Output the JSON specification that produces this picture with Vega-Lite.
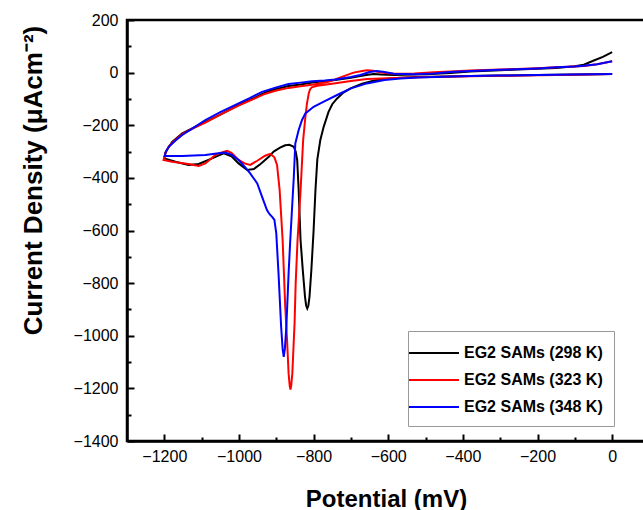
{
 "$schema": "https://vega.github.io/schema/vega-lite/v6.json",
 "autosize": "none",
 "width": 518,
 "height": 421,
 "padding": {"left": 127, "top": 20, "right": 0, "bottom": 69},
 "config": {
  "font": "Liberation Sans",
  "view": {"stroke": "#000", "strokeWidth": 2.5},
  "axis": {"grid": false, "domainColor": "#000", "domainWidth": 2.5, "tickColor": "#000", "tickWidth": 2, "labelColor": "#000", "labelFont": "Liberation Sans", "labelFontSize": 16, "titleColor": "#000", "titleFont": "Liberation Sans", "titleFontWeight": "bold"}
 },
 "datasets": {
  "cv": [
   {"sample":"EG2 SAMs (298 K)","idx":0,"potential":0,"current":-5},
   {"sample":"EG2 SAMs (298 K)","idx":1,"potential":-100,"current":-7},
   {"sample":"EG2 SAMs (298 K)","idx":2,"potential":-200,"current":-9},
   {"sample":"EG2 SAMs (298 K)","idx":3,"potential":-300,"current":-11},
   {"sample":"EG2 SAMs (298 K)","idx":4,"potential":-380,"current":-13},
   {"sample":"EG2 SAMs (298 K)","idx":5,"potential":-450,"current":-15},
   {"sample":"EG2 SAMs (298 K)","idx":6,"potential":-520,"current":-17},
   {"sample":"EG2 SAMs (298 K)","idx":7,"potential":-567,"current":-19},
   {"sample":"EG2 SAMs (298 K)","idx":8,"potential":-610,"current":-24},
   {"sample":"EG2 SAMs (298 K)","idx":9,"potential":-640,"current":-31},
   {"sample":"EG2 SAMs (298 K)","idx":10,"potential":-670,"current":-42},
   {"sample":"EG2 SAMs (298 K)","idx":11,"potential":-701,"current":-60},
   {"sample":"EG2 SAMs (298 K)","idx":12,"potential":-720,"current":-76},
   {"sample":"EG2 SAMs (298 K)","idx":13,"potential":-737,"current":-98},
   {"sample":"EG2 SAMs (298 K)","idx":14,"potential":-750,"current":-120},
   {"sample":"EG2 SAMs (298 K)","idx":15,"potential":-760,"current":-149},
   {"sample":"EG2 SAMs (298 K)","idx":16,"potential":-773,"current":-206},
   {"sample":"EG2 SAMs (298 K)","idx":17,"potential":-782,"current":-256},
   {"sample":"EG2 SAMs (298 K)","idx":18,"potential":-790,"current":-330},
   {"sample":"EG2 SAMs (298 K)","idx":19,"potential":-795,"current":-446},
   {"sample":"EG2 SAMs (298 K)","idx":20,"potential":-800,"current":-600},
   {"sample":"EG2 SAMs (298 K)","idx":21,"potential":-806,"current":-750},
   {"sample":"EG2 SAMs (298 K)","idx":22,"potential":-811,"current":-852},
   {"sample":"EG2 SAMs (298 K)","idx":23,"potential":-814,"current":-885},
   {"sample":"EG2 SAMs (298 K)","idx":24,"potential":-817,"current":-896},
   {"sample":"EG2 SAMs (298 K)","idx":25,"potential":-820,"current":-885},
   {"sample":"EG2 SAMs (298 K)","idx":26,"potential":-823,"current":-852},
   {"sample":"EG2 SAMs (298 K)","idx":27,"potential":-829,"current":-750},
   {"sample":"EG2 SAMs (298 K)","idx":28,"potential":-835,"current":-636},
   {"sample":"EG2 SAMs (298 K)","idx":29,"potential":-840,"current":-446},
   {"sample":"EG2 SAMs (298 K)","idx":30,"potential":-844,"current":-332},
   {"sample":"EG2 SAMs (298 K)","idx":31,"potential":-848,"current":-300},
   {"sample":"EG2 SAMs (298 K)","idx":32,"potential":-853,"current":-282},
   {"sample":"EG2 SAMs (298 K)","idx":33,"potential":-865,"current":-274},
   {"sample":"EG2 SAMs (298 K)","idx":34,"potential":-876,"current":-276},
   {"sample":"EG2 SAMs (298 K)","idx":35,"potential":-890,"current":-285},
   {"sample":"EG2 SAMs (298 K)","idx":36,"potential":-907,"current":-300},
   {"sample":"EG2 SAMs (298 K)","idx":37,"potential":-920,"current":-320},
   {"sample":"EG2 SAMs (298 K)","idx":38,"potential":-943,"current":-348},
   {"sample":"EG2 SAMs (298 K)","idx":39,"potential":-960,"current":-366},
   {"sample":"EG2 SAMs (298 K)","idx":40,"potential":-978,"current":-370},
   {"sample":"EG2 SAMs (298 K)","idx":41,"potential":-1001,"current":-345},
   {"sample":"EG2 SAMs (298 K)","idx":42,"potential":-1020,"current":-318},
   {"sample":"EG2 SAMs (298 K)","idx":43,"potential":-1041,"current":-307},
   {"sample":"EG2 SAMs (298 K)","idx":44,"potential":-1060,"current":-318},
   {"sample":"EG2 SAMs (298 K)","idx":45,"potential":-1072,"current":-326},
   {"sample":"EG2 SAMs (298 K)","idx":46,"potential":-1108,"current":-347},
   {"sample":"EG2 SAMs (298 K)","idx":47,"potential":-1135,"current":-351},
   {"sample":"EG2 SAMs (298 K)","idx":48,"potential":-1170,"current":-339},
   {"sample":"EG2 SAMs (298 K)","idx":49,"potential":-1200,"current":-326},
   {"sample":"EG2 SAMs (298 K)","idx":50,"potential":-1197,"current":-305},
   {"sample":"EG2 SAMs (298 K)","idx":51,"potential":-1193,"current":-294},
   {"sample":"EG2 SAMs (298 K)","idx":52,"potential":-1179,"current":-263},
   {"sample":"EG2 SAMs (298 K)","idx":53,"potential":-1152,"current":-231},
   {"sample":"EG2 SAMs (298 K)","idx":54,"potential":-1120,"current":-208},
   {"sample":"EG2 SAMs (298 K)","idx":55,"potential":-1090,"current":-187},
   {"sample":"EG2 SAMs (298 K)","idx":56,"potential":-1050,"current":-160},
   {"sample":"EG2 SAMs (298 K)","idx":57,"potential":-1001,"current":-123},
   {"sample":"EG2 SAMs (298 K)","idx":58,"potential":-960,"current":-97},
   {"sample":"EG2 SAMs (298 K)","idx":59,"potential":-929,"current":-75},
   {"sample":"EG2 SAMs (298 K)","idx":60,"potential":-900,"current":-62},
   {"sample":"EG2 SAMs (298 K)","idx":61,"potential":-867,"current":-51},
   {"sample":"EG2 SAMs (298 K)","idx":62,"potential":-835,"current":-45},
   {"sample":"EG2 SAMs (298 K)","idx":63,"potential":-804,"current":-38},
   {"sample":"EG2 SAMs (298 K)","idx":64,"potential":-770,"current":-33},
   {"sample":"EG2 SAMs (298 K)","idx":65,"potential":-742,"current":-28},
   {"sample":"EG2 SAMs (298 K)","idx":66,"potential":-700,"current":-20},
   {"sample":"EG2 SAMs (298 K)","idx":67,"potential":-675,"current":-13},
   {"sample":"EG2 SAMs (298 K)","idx":68,"potential":-655,"current":-8},
   {"sample":"EG2 SAMs (298 K)","idx":69,"potential":-639,"current":-5},
   {"sample":"EG2 SAMs (298 K)","idx":70,"potential":-620,"current":-7},
   {"sample":"EG2 SAMs (298 K)","idx":71,"potential":-585,"current":-9},
   {"sample":"EG2 SAMs (298 K)","idx":72,"potential":-500,"current":-6},
   {"sample":"EG2 SAMs (298 K)","idx":73,"potential":-433,"current":-1},
   {"sample":"EG2 SAMs (298 K)","idx":74,"potential":-380,"current":4},
   {"sample":"EG2 SAMs (298 K)","idx":75,"potential":-300,"current":9},
   {"sample":"EG2 SAMs (298 K)","idx":76,"potential":-255,"current":12},
   {"sample":"EG2 SAMs (298 K)","idx":77,"potential":-200,"current":15},
   {"sample":"EG2 SAMs (298 K)","idx":78,"potential":-150,"current":18},
   {"sample":"EG2 SAMs (298 K)","idx":79,"potential":-100,"current":24},
   {"sample":"EG2 SAMs (298 K)","idx":80,"potential":-76,"current":30},
   {"sample":"EG2 SAMs (298 K)","idx":81,"potential":-49,"current":46},
   {"sample":"EG2 SAMs (298 K)","idx":82,"potential":-25,"current":60},
   {"sample":"EG2 SAMs (298 K)","idx":83,"potential":0,"current":78},

   {"sample":"EG2 SAMs (323 K)","idx":0,"potential":0,"current":-5},
   {"sample":"EG2 SAMs (323 K)","idx":1,"potential":-100,"current":-8},
   {"sample":"EG2 SAMs (323 K)","idx":2,"potential":-200,"current":-10},
   {"sample":"EG2 SAMs (323 K)","idx":3,"potential":-300,"current":-12},
   {"sample":"EG2 SAMs (323 K)","idx":4,"potential":-380,"current":-14},
   {"sample":"EG2 SAMs (323 K)","idx":5,"potential":-450,"current":-16},
   {"sample":"EG2 SAMs (323 K)","idx":6,"potential":-520,"current":-18},
   {"sample":"EG2 SAMs (323 K)","idx":7,"potential":-580,"current":-20},
   {"sample":"EG2 SAMs (323 K)","idx":8,"potential":-657,"current":-24},
   {"sample":"EG2 SAMs (323 K)","idx":9,"potential":-700,"current":-32},
   {"sample":"EG2 SAMs (323 K)","idx":10,"potential":-746,"current":-41},
   {"sample":"EG2 SAMs (323 K)","idx":11,"potential":-790,"current":-50},
   {"sample":"EG2 SAMs (323 K)","idx":12,"potential":-805,"current":-56},
   {"sample":"EG2 SAMs (323 K)","idx":13,"potential":-810,"current":-65},
   {"sample":"EG2 SAMs (323 K)","idx":14,"potential":-813,"current":-79},
   {"sample":"EG2 SAMs (323 K)","idx":15,"potential":-818,"current":-120},
   {"sample":"EG2 SAMs (323 K)","idx":16,"potential":-822,"current":-168},
   {"sample":"EG2 SAMs (323 K)","idx":17,"potential":-828,"current":-256},
   {"sample":"EG2 SAMs (323 K)","idx":18,"potential":-835,"current":-450},
   {"sample":"EG2 SAMs (323 K)","idx":19,"potential":-843,"current":-636},
   {"sample":"EG2 SAMs (323 K)","idx":20,"potential":-848,"current":-800},
   {"sample":"EG2 SAMs (323 K)","idx":21,"potential":-851,"current":-953},
   {"sample":"EG2 SAMs (323 K)","idx":22,"potential":-855,"current":-1080},
   {"sample":"EG2 SAMs (323 K)","idx":23,"potential":-857,"current":-1143},
   {"sample":"EG2 SAMs (323 K)","idx":24,"potential":-860,"current":-1190},
   {"sample":"EG2 SAMs (323 K)","idx":25,"potential":-862,"current":-1204},
   {"sample":"EG2 SAMs (323 K)","idx":26,"potential":-864,"current":-1190},
   {"sample":"EG2 SAMs (323 K)","idx":27,"potential":-867,"current":-1143},
   {"sample":"EG2 SAMs (323 K)","idx":28,"potential":-871,"current":-1020},
   {"sample":"EG2 SAMs (323 K)","idx":29,"potential":-876,"current":-890},
   {"sample":"EG2 SAMs (323 K)","idx":30,"potential":-883,"current":-636},
   {"sample":"EG2 SAMs (323 K)","idx":31,"potential":-891,"current":-446},
   {"sample":"EG2 SAMs (323 K)","idx":32,"potential":-898,"current":-351},
   {"sample":"EG2 SAMs (323 K)","idx":33,"potential":-905,"current":-322},
   {"sample":"EG2 SAMs (323 K)","idx":34,"potential":-916,"current":-309},
   {"sample":"EG2 SAMs (323 K)","idx":35,"potential":-930,"current":-316},
   {"sample":"EG2 SAMs (323 K)","idx":36,"potential":-951,"current":-335},
   {"sample":"EG2 SAMs (323 K)","idx":37,"potential":-970,"current":-351},
   {"sample":"EG2 SAMs (323 K)","idx":38,"potential":-985,"current":-345},
   {"sample":"EG2 SAMs (323 K)","idx":39,"potential":-1001,"current":-332},
   {"sample":"EG2 SAMs (323 K)","idx":40,"potential":-1020,"current":-305},
   {"sample":"EG2 SAMs (323 K)","idx":41,"potential":-1032,"current":-297},
   {"sample":"EG2 SAMs (323 K)","idx":42,"potential":-1050,"current":-305},
   {"sample":"EG2 SAMs (323 K)","idx":43,"potential":-1063,"current":-313},
   {"sample":"EG2 SAMs (323 K)","idx":44,"potential":-1090,"current":-345},
   {"sample":"EG2 SAMs (323 K)","idx":45,"potential":-1108,"current":-355},
   {"sample":"EG2 SAMs (323 K)","idx":46,"potential":-1135,"current":-347},
   {"sample":"EG2 SAMs (323 K)","idx":47,"potential":-1179,"current":-339},
   {"sample":"EG2 SAMs (323 K)","idx":48,"potential":-1202,"current":-332},
   {"sample":"EG2 SAMs (323 K)","idx":49,"potential":-1197,"current":-305},
   {"sample":"EG2 SAMs (323 K)","idx":50,"potential":-1188,"current":-280},
   {"sample":"EG2 SAMs (323 K)","idx":51,"potential":-1170,"current":-255},
   {"sample":"EG2 SAMs (323 K)","idx":52,"potential":-1150,"current":-232},
   {"sample":"EG2 SAMs (323 K)","idx":53,"potential":-1120,"current":-210},
   {"sample":"EG2 SAMs (323 K)","idx":54,"potential":-1090,"current":-190},
   {"sample":"EG2 SAMs (323 K)","idx":55,"potential":-1050,"current":-160},
   {"sample":"EG2 SAMs (323 K)","idx":56,"potential":-1001,"current":-125},
   {"sample":"EG2 SAMs (323 K)","idx":57,"potential":-960,"current":-100},
   {"sample":"EG2 SAMs (323 K)","idx":58,"potential":-929,"current":-80},
   {"sample":"EG2 SAMs (323 K)","idx":59,"potential":-900,"current":-68},
   {"sample":"EG2 SAMs (323 K)","idx":60,"potential":-867,"current":-58},
   {"sample":"EG2 SAMs (323 K)","idx":61,"potential":-835,"current":-52},
   {"sample":"EG2 SAMs (323 K)","idx":62,"potential":-800,"current":-45},
   {"sample":"EG2 SAMs (323 K)","idx":63,"potential":-760,"current":-35},
   {"sample":"EG2 SAMs (323 K)","idx":64,"potential":-728,"current":-18},
   {"sample":"EG2 SAMs (323 K)","idx":65,"potential":-693,"current":0},
   {"sample":"EG2 SAMs (323 K)","idx":66,"potential":-670,"current":6},
   {"sample":"EG2 SAMs (323 K)","idx":67,"potential":-657,"current":9},
   {"sample":"EG2 SAMs (323 K)","idx":68,"potential":-640,"current":7},
   {"sample":"EG2 SAMs (323 K)","idx":69,"potential":-620,"current":0},
   {"sample":"EG2 SAMs (323 K)","idx":70,"potential":-585,"current":-4},
   {"sample":"EG2 SAMs (323 K)","idx":71,"potential":-530,"current":-3},
   {"sample":"EG2 SAMs (323 K)","idx":72,"potential":-478,"current":1},
   {"sample":"EG2 SAMs (323 K)","idx":73,"potential":-433,"current":4},
   {"sample":"EG2 SAMs (323 K)","idx":74,"potential":-380,"current":8},
   {"sample":"EG2 SAMs (323 K)","idx":75,"potential":-300,"current":12},
   {"sample":"EG2 SAMs (323 K)","idx":76,"potential":-255,"current":14},
   {"sample":"EG2 SAMs (323 K)","idx":77,"potential":-200,"current":17},
   {"sample":"EG2 SAMs (323 K)","idx":78,"potential":-150,"current":20},
   {"sample":"EG2 SAMs (323 K)","idx":79,"potential":-100,"current":23},
   {"sample":"EG2 SAMs (323 K)","idx":80,"potential":-76,"current":25},
   {"sample":"EG2 SAMs (323 K)","idx":81,"potential":-40,"current":32},
   {"sample":"EG2 SAMs (323 K)","idx":82,"potential":0,"current":43},

   {"sample":"EG2 SAMs (348 K)","idx":0,"potential":0,"current":-5},
   {"sample":"EG2 SAMs (348 K)","idx":1,"potential":-100,"current":-7},
   {"sample":"EG2 SAMs (348 K)","idx":2,"potential":-200,"current":-9},
   {"sample":"EG2 SAMs (348 K)","idx":3,"potential":-300,"current":-11},
   {"sample":"EG2 SAMs (348 K)","idx":4,"potential":-380,"current":-13},
   {"sample":"EG2 SAMs (348 K)","idx":5,"potential":-450,"current":-16},
   {"sample":"EG2 SAMs (348 K)","idx":6,"potential":-520,"current":-19},
   {"sample":"EG2 SAMs (348 K)","idx":7,"potential":-567,"current":-22},
   {"sample":"EG2 SAMs (348 K)","idx":8,"potential":-610,"current":-28},
   {"sample":"EG2 SAMs (348 K)","idx":9,"potential":-657,"current":-41},
   {"sample":"EG2 SAMs (348 K)","idx":10,"potential":-700,"current":-60},
   {"sample":"EG2 SAMs (348 K)","idx":11,"potential":-737,"current":-85},
   {"sample":"EG2 SAMs (348 K)","idx":12,"potential":-770,"current":-108},
   {"sample":"EG2 SAMs (348 K)","idx":13,"potential":-800,"current":-130},
   {"sample":"EG2 SAMs (348 K)","idx":14,"potential":-822,"current":-155},
   {"sample":"EG2 SAMs (348 K)","idx":15,"potential":-831,"current":-180},
   {"sample":"EG2 SAMs (348 K)","idx":16,"potential":-840,"current":-218},
   {"sample":"EG2 SAMs (348 K)","idx":17,"potential":-849,"current":-269},
   {"sample":"EG2 SAMs (348 K)","idx":18,"potential":-853,"current":-396},
   {"sample":"EG2 SAMs (348 K)","idx":19,"potential":-858,"current":-522},
   {"sample":"EG2 SAMs (348 K)","idx":20,"potential":-863,"current":-650},
   {"sample":"EG2 SAMs (348 K)","idx":21,"potential":-867,"current":-763},
   {"sample":"EG2 SAMs (348 K)","idx":22,"potential":-873,"current":-966},
   {"sample":"EG2 SAMs (348 K)","idx":23,"potential":-877,"current":-1050},
   {"sample":"EG2 SAMs (348 K)","idx":24,"potential":-880,"current":-1080},
   {"sample":"EG2 SAMs (348 K)","idx":25,"potential":-883,"current":-1050},
   {"sample":"EG2 SAMs (348 K)","idx":26,"potential":-887,"current":-966},
   {"sample":"EG2 SAMs (348 K)","idx":27,"potential":-894,"current":-763},
   {"sample":"EG2 SAMs (348 K)","idx":28,"potential":-900,"current":-611},
   {"sample":"EG2 SAMs (348 K)","idx":29,"potential":-905,"current":-560},
   {"sample":"EG2 SAMs (348 K)","idx":30,"potential":-911,"current":-548},
   {"sample":"EG2 SAMs (348 K)","idx":31,"potential":-918,"current":-538},
   {"sample":"EG2 SAMs (348 K)","idx":32,"potential":-925,"current":-522},
   {"sample":"EG2 SAMs (348 K)","idx":33,"potential":-938,"current":-472},
   {"sample":"EG2 SAMs (348 K)","idx":34,"potential":-951,"current":-421},
   {"sample":"EG2 SAMs (348 K)","idx":35,"potential":-970,"current":-383},
   {"sample":"EG2 SAMs (348 K)","idx":36,"potential":-983,"current":-360},
   {"sample":"EG2 SAMs (348 K)","idx":37,"potential":-1001,"current":-332},
   {"sample":"EG2 SAMs (348 K)","idx":38,"potential":-1019,"current":-313},
   {"sample":"EG2 SAMs (348 K)","idx":39,"potential":-1036,"current":-304},
   {"sample":"EG2 SAMs (348 K)","idx":40,"potential":-1060,"current":-307},
   {"sample":"EG2 SAMs (348 K)","idx":41,"potential":-1090,"current":-313},
   {"sample":"EG2 SAMs (348 K)","idx":42,"potential":-1152,"current":-317},
   {"sample":"EG2 SAMs (348 K)","idx":43,"potential":-1199,"current":-317},
   {"sample":"EG2 SAMs (348 K)","idx":44,"potential":-1196,"current":-300},
   {"sample":"EG2 SAMs (348 K)","idx":45,"potential":-1188,"current":-282},
   {"sample":"EG2 SAMs (348 K)","idx":46,"potential":-1170,"current":-258},
   {"sample":"EG2 SAMs (348 K)","idx":47,"potential":-1152,"current":-237},
   {"sample":"EG2 SAMs (348 K)","idx":48,"potential":-1120,"current":-208},
   {"sample":"EG2 SAMs (348 K)","idx":49,"potential":-1090,"current":-180},
   {"sample":"EG2 SAMs (348 K)","idx":50,"potential":-1050,"current":-150},
   {"sample":"EG2 SAMs (348 K)","idx":51,"potential":-1001,"current":-117},
   {"sample":"EG2 SAMs (348 K)","idx":52,"potential":-970,"current":-96},
   {"sample":"EG2 SAMs (348 K)","idx":53,"potential":-938,"current":-73},
   {"sample":"EG2 SAMs (348 K)","idx":54,"potential":-900,"current":-56},
   {"sample":"EG2 SAMs (348 K)","idx":55,"potential":-867,"current":-43},
   {"sample":"EG2 SAMs (348 K)","idx":56,"potential":-835,"current":-38},
   {"sample":"EG2 SAMs (348 K)","idx":57,"potential":-804,"current":-33},
   {"sample":"EG2 SAMs (348 K)","idx":58,"potential":-770,"current":-30},
   {"sample":"EG2 SAMs (348 K)","idx":59,"potential":-742,"current":-26},
   {"sample":"EG2 SAMs (348 K)","idx":60,"potential":-700,"current":-17},
   {"sample":"EG2 SAMs (348 K)","idx":61,"potential":-675,"current":-9},
   {"sample":"EG2 SAMs (348 K)","idx":62,"potential":-650,"current":2},
   {"sample":"EG2 SAMs (348 K)","idx":63,"potential":-630,"current":6},
   {"sample":"EG2 SAMs (348 K)","idx":64,"potential":-610,"current":2},
   {"sample":"EG2 SAMs (348 K)","idx":65,"potential":-585,"current":-4},
   {"sample":"EG2 SAMs (348 K)","idx":66,"potential":-530,"current":-6},
   {"sample":"EG2 SAMs (348 K)","idx":67,"potential":-478,"current":-3},
   {"sample":"EG2 SAMs (348 K)","idx":68,"potential":-433,"current":2},
   {"sample":"EG2 SAMs (348 K)","idx":69,"potential":-380,"current":6},
   {"sample":"EG2 SAMs (348 K)","idx":70,"potential":-300,"current":11},
   {"sample":"EG2 SAMs (348 K)","idx":71,"potential":-255,"current":13},
   {"sample":"EG2 SAMs (348 K)","idx":72,"potential":-200,"current":16},
   {"sample":"EG2 SAMs (348 K)","idx":73,"potential":-150,"current":20},
   {"sample":"EG2 SAMs (348 K)","idx":74,"potential":-100,"current":23},
   {"sample":"EG2 SAMs (348 K)","idx":75,"potential":-76,"current":26},
   {"sample":"EG2 SAMs (348 K)","idx":76,"potential":-40,"current":32},
   {"sample":"EG2 SAMs (348 K)","idx":77,"potential":0,"current":43}
  ]
 },
 "data": {"name": "cv"},
 "layer": [
  {
   "mark": {"type": "line", "strokeWidth": 2, "clip": true},
   "encoding": {
    "x": {"field": "potential", "type": "quantitative", "scale": {"domain": [-1300, 88], "nice": false, "zero": false},
     "axis": {"values": [-1200, -1000, -800, -600, -400, -200, 0], "format": "d", "tickSize": -7, "labelPadding": 14, "title": "Potential (mV)", "titleFontSize": 24, "titleBaseline": "alphabetic", "titleY": 65, "domainWidth": 2.5}},
    "y": {"field": "current", "type": "quantitative", "scale": {"domain": [-1400, 200], "nice": false, "zero": false},
     "axis": {"values": [-1400, -1200, -1000, -800, -600, -400, -200, 0, 200], "format": "d", "tickSize": -7, "labelPadding": 16, "title": "Current Density (μAcm⁻²)", "titleFontSize": 26, "titleBaseline": "alphabetic", "titleX": -86, "titleY": 160}},
    "color": {"field": "sample", "type": "nominal",
     "scale": {"domain": ["EG2 SAMs (298 K)", "EG2 SAMs (323 K)", "EG2 SAMs (348 K)"], "range": ["#000000", "#ff0000", "#0000ff"]},
     "legend": {"title": null, "orient": "none", "legendX": 281, "legendY": 311, "symbolType": "M-2.5,0H2.5", "symbolSize": 400, "symbolStrokeWidth": 2, "labelFontSize": 16, "labelFontWeight": "bold", "labelColor": "#000", "labelFont": "Liberation Sans", "strokeColor": "#999999", "fillColor": "#ffffff", "padding": 11, "symbolOffset": 4, "labelOffset": 19, "rowPadding": 8}},
    "order": {"field": "idx", "type": "quantitative"}
   }
  },
  {
   "mark": {"type": "point", "opacity": 0},
   "encoding": {
    "x": {"field": "potential", "type": "quantitative",
     "axis": {"orient": "bottom", "values": [-1100, -900, -700, -500, -300, -100], "labels": false, "domain": false, "title": null, "tickSize": -4}},
    "y": {"field": "current", "type": "quantitative",
     "axis": {"orient": "left", "values": [-1300, -1100, -900, -700, -500, -300, -100, 100], "labels": false, "domain": false, "title": null, "tickSize": -4}}
   }
  }
 ],
 "resolve": {"axis": {"x": "independent", "y": "independent"}}
}
